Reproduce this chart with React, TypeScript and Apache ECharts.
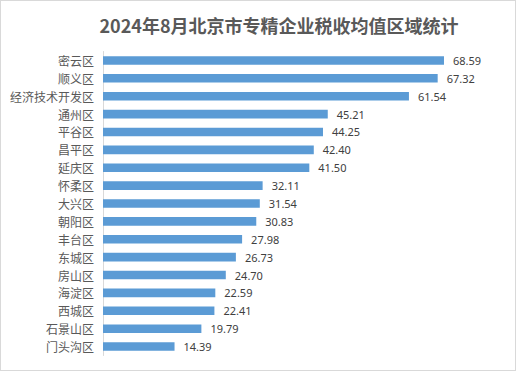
import React, { useEffect, useRef } from "react";
import * as echarts from "echarts";

const titleText = "2024年8月北京市专精企业税收均值区域统计";
const districts = ["密云区", "顺义区", "经济技术开发区", "通州区", "平谷区", "昌平区", "延庆区", "怀柔区", "大兴区", "朝阳区", "丰台区", "东城区", "房山区", "海淀区", "西城区", "石景山区", "门头沟区"];
const averages = [68.59, 67.32, 61.54, 45.21, 44.25, 42.4, 41.5, 32.11, 31.54, 30.83, 27.98, 26.73, 24.7, 22.59, 22.41, 19.79, 14.39];

export default function App() {
  const ref = useRef<HTMLDivElement>(null);
  useEffect(() => {
    if (!ref.current) return;
    const chart = echarts.init(ref.current, null, { renderer: "svg" });
    chart.setOption({
      animation: false,
      backgroundColor: "transparent",
      title: {
        text: titleText,
        left: 274,
        textAlign: "center",
        top: 11,
        textStyle: { fontSize: 18, fontWeight: "bold", color: "#595959", fontFamily: "Noto Sans CJK SC" },
      },
      grid: { left: 103, top: 51.5, width: 348, height: 304, containLabel: false },
      xAxis: {
        type: "value",
        min: 0,
        max: 70,
        show: false,
      },
      yAxis: {
        type: "category",
        inverse: true,
        data: districts,
        axisLine: { show: true, lineStyle: { color: "#d9d9d9", width: 1 } },
        axisTick: { show: false },
        axisLabel: { color: "#595959", fontSize: 12, margin: 9, fontFamily: "Noto Sans CJK SC" },
      },
      series: [
        {
          type: "bar",
          data: averages,
          barCategoryGap: "52%",
          itemStyle: { color: "#5B9BD5" },
          label: {
            show: true,
            position: "right",
            distance: 9,
            formatter: (p: any) => Number(p.value).toFixed(2),
            color: "#404040",
            fontSize: 11,
            fontFamily: "Noto Sans",
          },
        },
      ],
    });
    return () => chart.dispose();
  }, []);
  return (
    <div style={{ position: "fixed", left: 0, top: 0, width: 516, height: 371, boxSizing: "border-box", border: "1px solid #d9d9d9", background: "#fff" }}>
      <div ref={ref} style={{ position: "absolute", left: -1, top: -1, width: 516, height: 371 }} />
    </div>
  );
}
